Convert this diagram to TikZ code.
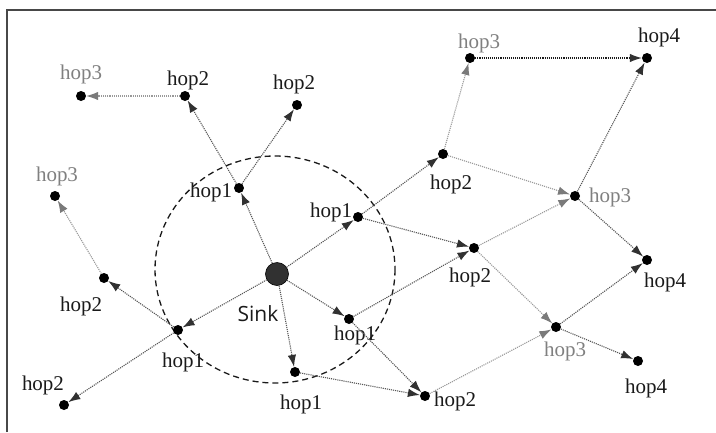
\documentclass[tikz,border=0pt]{standalone}
\usepackage{fontspec}
\setmainfont{Liberation Serif}
\newfontfamily\sinkfont{Open Sans}
\usetikzlibrary{arrows.meta}
\definecolor{dk}{HTML}{1A1A1A}
\definecolor{ln}{HTML}{555555}
\definecolor{lg}{HTML}{808080}
\definecolor{tipg}{HTML}{7A7A7A}
\tikzset{
  dot/.style={circle,fill=black,inner sep=0pt,minimum size=10pt},
  lab/.style={font=\fontsize{21}{21}\selectfont,text=dk,inner sep=0pt},
  glab/.style={font=\fontsize{21}{21}\selectfont,text=lg,inner sep=0pt},
  dk edge/.style={draw=ln,line width=1.1pt,densely dotted,-{Latex[length=12pt,width=8.5pt,fill=dk!90,color=dk!90]}},
  gr edge/.style={draw=lg!80,line width=1.1pt,densely dotted,-{Latex[length=12pt,width=8.5pt,fill=tipg,color=tipg]}},
}
\begin{document}
\begin{tikzpicture}[x=1pt,y=-1pt]
\useasboundingbox (0,0) rectangle (716,432);
% frame
\draw[line width=1.5pt,color=dk!80] (7,432) -- (7,10) -- (716,10);
% range ellipse
\draw[line width=1.3pt,dash pattern=on 6pt off 4pt,color=dk] (275,269.5) ellipse [x radius=120,y radius=113.5];
% nodes
\node[circle,fill=dk!90,draw=black,line width=0.6pt,inner sep=0pt,minimum size=23pt] (S) at (277,274) {};
\node[dot] (a1) at (239,188) {};
\node[dot] (a2) at (185,96) {};
\node[dot] (a3) at (81,96) {};
\node[dot] (a4) at (297,105) {};
\node[dot] (b1) at (358,217) {};
\node[dot] (b2) at (443,154) {};
\node[dot] (b3) at (470,58) {};
\node[dot] (b4) at (647,58) {};
\node[dot] (c3) at (575,196) {};
\node[dot] (c2) at (474,248) {};
\node[dot] (c4) at (647,260) {};
\node[dot] (d1) at (349,319) {};
\node[dot] (e1) at (295,372) {};
\node[dot] (e2) at (425,396) {};
\node[dot] (f3) at (556,327) {};
\node[dot] (f4) at (638,361) {};
\node[dot] (g1) at (178,330) {};
\node[dot] (g2) at (104,278) {};
\node[dot] (g3) at (55,196) {};
\node[dot] (h2) at (64,405) {};
% labels
\node[font=\sinkfont\fontsize{21}{21}\selectfont,text=dk,inner sep=0pt,anchor=base] (lS) at (258,321) {Sink};
\node[lab] (la1) at (211,192) {hop1};
\node[lab] (la2) at (188,80) {hop2};
\node[glab] (la3) at (81,74) {hop3};
\node[lab] (la4) at (294,84) {hop2};
\node[lab] (lb1) at (331,212) {hop1};
\node[lab] (lb2) at (451,184) {hop2};
\node[glab] (lb3) at (479,43) {hop3};
\node[lab] (lb4) at (659,37) {hop4};
\node[glab] (lc3) at (610,197) {hop3};
\node[lab] (lc2) at (470,277) {hop2};
\node[lab] (lc4) at (665,282) {hop4};
\node[lab] (ld1) at (355,335) {hop1};
\node[lab] (le1) at (301,404) {hop1};
\node[lab] (le2) at (455,401) {hop2};
\node[glab] (lf3) at (565,351) {hop3};
\node[lab] (lf4) at (646,388) {hop4};
\node[lab] (lg1) at (183,362) {hop1};
\node[lab] (lg2) at (81,306) {hop2};
\node[glab] (lg3) at (57,176) {hop3};
\node[lab] (lh2) at (43,385) {hop2};
% edges
\path[dk edge] (S) -- (a1);
\path[dk edge] (a1) -- (a2);
\path[dk edge] (a1) -- (a4);
\path[dk edge] (S) -- (b1);
\path[dk edge] (S) -- (d1);
\path[dk edge] (S) -- (e1);
\path[dk edge] (S) -- (g1);
\path[dk edge] (g1) -- (g2);
\path[dk edge] (g1) -- (h2);
\path[dk edge] (b1) -- (b2);
\path[dk edge] (b1) -- (c2);
\path[dk edge] (d1) -- (c2);
\path[dk edge] (d1) -- (e2);
\path[dk edge] (e1) -- (e2);
\path[dk edge,draw=dk] (b3) -- (b4);
\path[dk edge] (c3) -- (b4);
\path[dk edge] (c3) -- (c4);
\path[dk edge] (f3) -- (c4);
\path[dk edge] (f3) -- (f4);
\path[gr edge] (a2) -- (a3);
\path[gr edge] (g2) -- (g3);
\path[gr edge] (b2) -- (b3);
\path[gr edge] (b2) -- (c3);
\path[gr edge] (c2) -- (c3);
\path[gr edge] (c2) -- (f3);
\path[gr edge] (e2) -- (f3);
\end{tikzpicture}
\end{document}
